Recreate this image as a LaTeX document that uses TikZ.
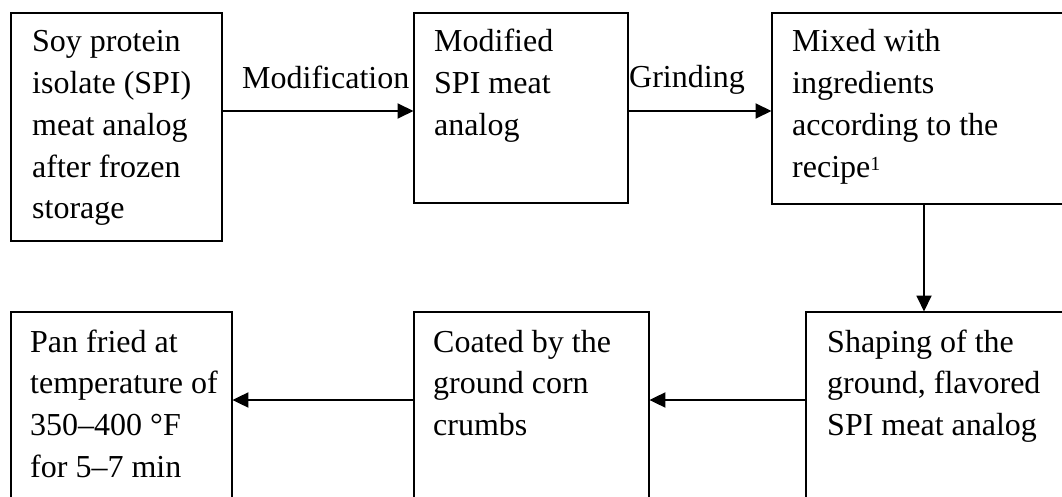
\documentclass[tikz,border=0pt]{standalone}
\usepackage{fontspec}
\setmainfont{Liberation Serif}
\usetikzlibrary{arrows.meta,calc}
\tikzset{
  box/.style={draw, line width=1.9pt, inner sep=0pt, anchor=north west},
  txt/.style={inner sep=0pt, anchor=base west, font=\fontsize{32}{41.7}\selectfont},
  arr/.style={line width=1.9pt, -{Triangle[length=16pt,width=15pt]}, shorten >=-0.5pt}
}
\begin{document}
\begin{tikzpicture}[x=1pt,y=-1pt]
\useasboundingbox (0,0) rectangle (1062,497);
% boxes
\node[box, minimum width=211pt, minimum height=228pt] (b1) at (10,12) {};
\node[box, minimum width=214pt, minimum height=190pt] (b2) at (413,12) {};
\node[box, minimum width=300pt, minimum height=191pt] (b3) at (771,12) {};
\node[box, minimum width=221pt, minimum height=200pt] (b4) at (10,311) {};
\node[box, minimum width=235pt, minimum height=200pt] (b5) at (413,311) {};
\node[box, minimum width=270pt, minimum height=200pt] (b6) at (805,311) {};
% texts
\node[txt] (t1) at ($(b1.north west)+(22,40)$) {\parbox[t]{200pt}{Soy protein\\isolate (SPI)\\meat analog\\after frozen\\storage}};
\node[txt] (t2) at ($(b2.north west)+(21,40)$) {\parbox[t]{200pt}{Modified\\SPI meat\\analog}};
\node[txt] (t3) at ($(b3.north west)+(21,40)$) {\parbox[t]{280pt}{Mixed with\\ingredients\\according to the\\recipe\raisebox{7pt}{\fontsize{20}{20}\selectfont 1}}};
\node[txt] (t4) at ($(b4.north west)+(20,41)$) {\parbox[t]{210pt}{Pan fried at\\temperature of\\350–400 °F\\for 5–7 min}};
\node[txt] (t5) at ($(b5.north west)+(20,41)$) {\parbox[t]{210pt}{Coated by the\\ground corn\\crumbs}};
\node[txt] (t6) at ($(b6.north west)+(22,41)$) {\parbox[t]{250pt}{Shaping of the\\ground, flavored\\SPI meat analog}};
% labels
\node[txt] (l1) at (242,89) {Modification};
\node[txt] (l2) at (629,88) {Grinding};
% connectors
\draw[arr] ([yshift=-99pt]b1.north east) -- ([yshift=-99pt]b2.north west);
\draw[arr] ([yshift=-99pt]b2.north east) -- ([yshift=-99pt]b3.north west);
\draw[arr] ([xshift=153pt]b3.south west) -- ([xshift=119pt]b6.north west);
\draw[arr] ([yshift=-89pt]b6.north west) -- ([yshift=-89pt]b5.north east);
\draw[arr] ([yshift=-89pt]b5.north west) -- ([yshift=-89pt]b4.north east);
\end{tikzpicture}
\end{document}
